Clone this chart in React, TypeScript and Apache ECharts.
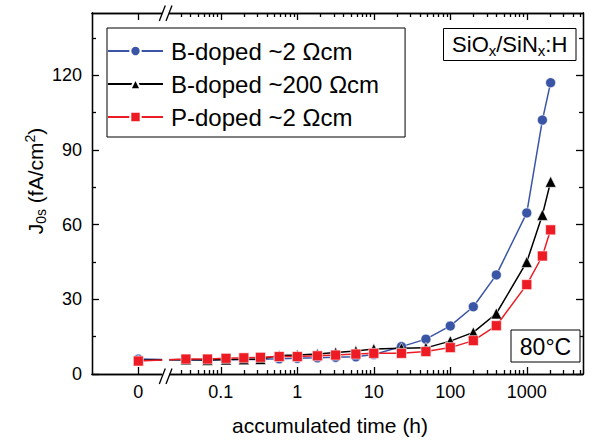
import React, { useEffect, useRef } from "react";
import * as echarts from "echarts";

// ---- data ----
const TIMES = [0, 0.035, 0.067, 0.117, 0.2, 0.33, 0.58, 1, 1.83, 3.17, 5.83, 10, 23, 48, 100, 200, 400, 1000, 1600, 2050];
const B_2 = [6.0, 5.6, 5.6, 5.7, 5.8, 5.9, 6.1, 6.3, 6.5, 6.7, 6.9, 7.8, 11.0, 14.0, 19.3, 27.0, 39.8, 64.7, 102, 117];
const B_200 = [5.5, 5.8, 5.6, 5.8, 5.9, 6.0, 7.4, 7.6, 8.0, 8.6, 9.2, 10.0, 10.3, 10.5, 13.2, 16.7, 24.3, 45.0, 63.9, 77.2];
const P_2 = [5.2, 6.0, 6.0, 6.3, 6.5, 6.7, 7.0, 7.0, 7.3, 7.6, 8.0, 8.3, 8.3, 9.0, 10.6, 13.4, 19.4, 35.9, 47.4, 57.9];
const SERIES_NAMES = ["B-doped ~2 Ωcm", "B-doped ~200 Ωcm", "P-doped ~2 Ωcm"];

const X_MAJOR = [0, 0.1, 1, 10, 100, 1000];
const X_LABELS = ["0", "0.1", "1", "10", "100", "1000"];
const Y_MAJOR = [0, 30, 60, 90, 120];
const Y_MINOR = [15, 45, 75, 105, 135];

// broken axis: 0 is placed left of the break, positive times on a log scale
const U_ZERO = -2.078;
const X_MIN = -2.684;
const X_MAX = 3.735;
const toU = (t: number) => (t === 0 ? U_ZERO : Math.log10(t));

const X_MINOR: number[] = [];
for (let e = -2; e <= 3; e++) {
  for (let m = 2; m <= 9; m++) {
    const t = m * Math.pow(10, e);
    const u = Math.log10(t);
    if (u > -1.6 && u < X_MAX) X_MINOR.push(t);
  }
}

const FONT = "'Liberation Sans', Arial, Helvetica, sans-serif";
const BLUE = "#3a55a5";
const RED = "#ed1c24";
const BLACK = "#000000";

export default function App() {
  const ref = useRef<HTMLDivElement>(null);
  useEffect(() => {
    if (!ref.current) return;
    const chart = echarts.init(ref.current, undefined, { renderer: "svg" });
    const lineStyle = { color: "#000", width: 1.3 };
    const majorU = X_MAJOR.map(toU);
    const minorU = X_MINOR.map(toU);
    const xFmt = (v: number) => {
      for (let i = 0; i < majorU.length; i++) if (Math.abs(majorU[i] - v) < 1e-6) return X_LABELS[i];
      return "";
    };
    const xBase = (pos: string, ticks: number[], len: number, labels: boolean) => ({
      type: "value",
      position: pos,
      min: X_MIN,
      max: X_MAX,
      axisLine: { show: true, onZero: false, lineStyle },
      axisTick: { show: true, inside: true, length: len, customValues: ticks, lineStyle },
      axisLabel: labels
        ? { show: true, customValues: majorU, formatter: xFmt, fontSize: 18, color: "#000", fontFamily: FONT, margin: 9 }
        : { show: false },
      splitLine: { show: false },
    });
    const yBase = (pos: string, ticks: number[], len: number, labels: boolean) => ({
      type: "value",
      position: pos,
      min: 0,
      max: 145,
      axisLine: { show: true, onZero: false, lineStyle },
      axisTick: { show: true, inside: true, length: len, customValues: ticks, lineStyle },
      axisLabel: labels
        ? { show: true, customValues: Y_MAJOR, fontSize: 18, color: "#000", fontFamily: FONT, margin: 10 }
        : { show: false },
      splitLine: { show: false },
    });
    const mk = (name: string, vals: number[], color: string, symbol: string, size: number, z: number) => ({
      type: "line",
      name,
      data: TIMES.map((t, i) => [toU(t), vals[i]]),
      xAxisIndex: 0,
      yAxisIndex: 0,
      symbol,
      symbolSize: size,
      showAllSymbol: true,
      itemStyle: { color, borderColor: "#fff", borderWidth: 0.6 },
      lineStyle: { color, width: 1.5 },
      z,
    });
    const xAxisCfg: any[] = [
      xBase("bottom", majorU, 7, true),
      xBase("bottom", minorU, 4, false),
      xBase("top", majorU, 7, false),
      xBase("top", minorU, 4, false),
    ];
    xAxisCfg[0].name = "accumulated time (h)";
    xAxisCfg[0].nameLocation = "middle";
    xAxisCfg[0].nameGap = 41;
    xAxisCfg[0].nameTextStyle = { fontSize: 21, color: "#000", fontFamily: FONT, padding: [0, 15, 0, 0] };

    const breakZ = 100;
    const slash = (x1: number, y1: number, x2: number, y2: number) => ({
      type: "line",
      z: breakZ + 1,
      shape: { x1, y1, x2, y2 },
      style: { stroke: "#000", lineWidth: 1.3 },
    });

    chart.setOption({
      animation: false,
      backgroundColor: "#fff",
      grid: { left: 92, right: 11, top: 13, bottom: 65, containLabel: false },
      xAxis: xAxisCfg,
      yAxis: [
        yBase("left", Y_MAJOR, 7, true),
        yBase("left", Y_MINOR, 4, false),
        yBase("right", Y_MAJOR, 7, false),
        yBase("right", Y_MINOR, 4, false),
      ],
      legend: {
        orient: "vertical",
        left: 107,
        top: 28,
        padding: [10, 26, 7, 0],
        itemGap: 7,
        itemWidth: 55,
        itemHeight: 13,
        borderColor: "#000",
        borderWidth: 1,
        backgroundColor: "#fff",
        textStyle: { fontSize: 24, lineHeight: 26, color: "#000", fontFamily: FONT, padding: [0, 0, 0, 3] },
        data: SERIES_NAMES,
      },
      series: [
        mk(SERIES_NAMES[0], B_2, BLUE, "circle", 10, 2),
        mk(SERIES_NAMES[1], B_200, BLACK, "triangle", 11, 3),
        mk(SERIES_NAMES[2], P_2, RED, "rect", 10, 4),
      ],
      graphic: [
        // axis break, bottom
        { type: "rect", z: breakZ, shape: { x: 162.3, y: 340, width: 6.8, height: 42 }, style: { fill: "#fff" } },
        slash(159.3, 384, 165.3, 368.5),
        slash(166, 384, 172, 368.5),
        // axis break, top
        { type: "rect", z: breakZ, shape: { x: 162.3, y: 5, width: 6.8, height: 16 }, style: { fill: "#fff" } },
        slash(159.3, 21, 165.3, 5.5),
        slash(166, 21, 172, 5.5),
        // y axis title
        {
          type: "text",
          z: breakZ,
          x: 35,
          y: 181,
          rotation: Math.PI / 2,
          style: {
            text: "{n|J}{s|0s}{n| (fA/cm}{p|2}{n|)}",
            align: "center",
            verticalAlign: "middle",
            rich: {
              n: { fontSize: 21, fontFamily: FONT, fill: "#000", lineHeight: 25 },
              s: { fontSize: 14, fontFamily: FONT, fill: "#000", verticalAlign: "bottom", lineHeight: 14 },
              p: { fontSize: 14, fontFamily: FONT, fill: "#000", verticalAlign: "top", lineHeight: 14 },
            },
          },
        },
        // SiOx/SiNx:H box
        { type: "rect", z: breakZ, shape: { x: 443.5, y: 28.5, width: 132.5, height: 32 }, style: { fill: "#fff", stroke: "#000", lineWidth: 1 } },
        {
          type: "text",
          z: breakZ + 1,
          x: 509.7,
          y: 44.5,
          style: {
            text: "{n|SiO}{s|x}{n|/SiN}{s|x}{n|:H}",
            align: "center",
            verticalAlign: "middle",
            rich: {
              n: { fontSize: 22, fontFamily: FONT, fill: "#000", lineHeight: 26 },
              s: { fontSize: 15, fontFamily: FONT, fill: "#000", verticalAlign: "bottom", lineHeight: 18 },
            },
          },
        },
        // 80°C box
        { type: "rect", z: breakZ, shape: { x: 511, y: 330, width: 69, height: 32 }, style: { fill: "#fff", stroke: "#000", lineWidth: 1 } },
        {
          type: "text",
          z: breakZ + 1,
          x: 545.5,
          y: 346.5,
          style: { text: "80°C", fontSize: 23, fontFamily: FONT, fill: "#000", align: "center", verticalAlign: "middle" },
        },
      ],
    });
    return () => chart.dispose();
  }, []);
  return <div ref={ref} style={{ position: "absolute", left: 0, top: 0, width: 594, height: 441 }} />;
}
